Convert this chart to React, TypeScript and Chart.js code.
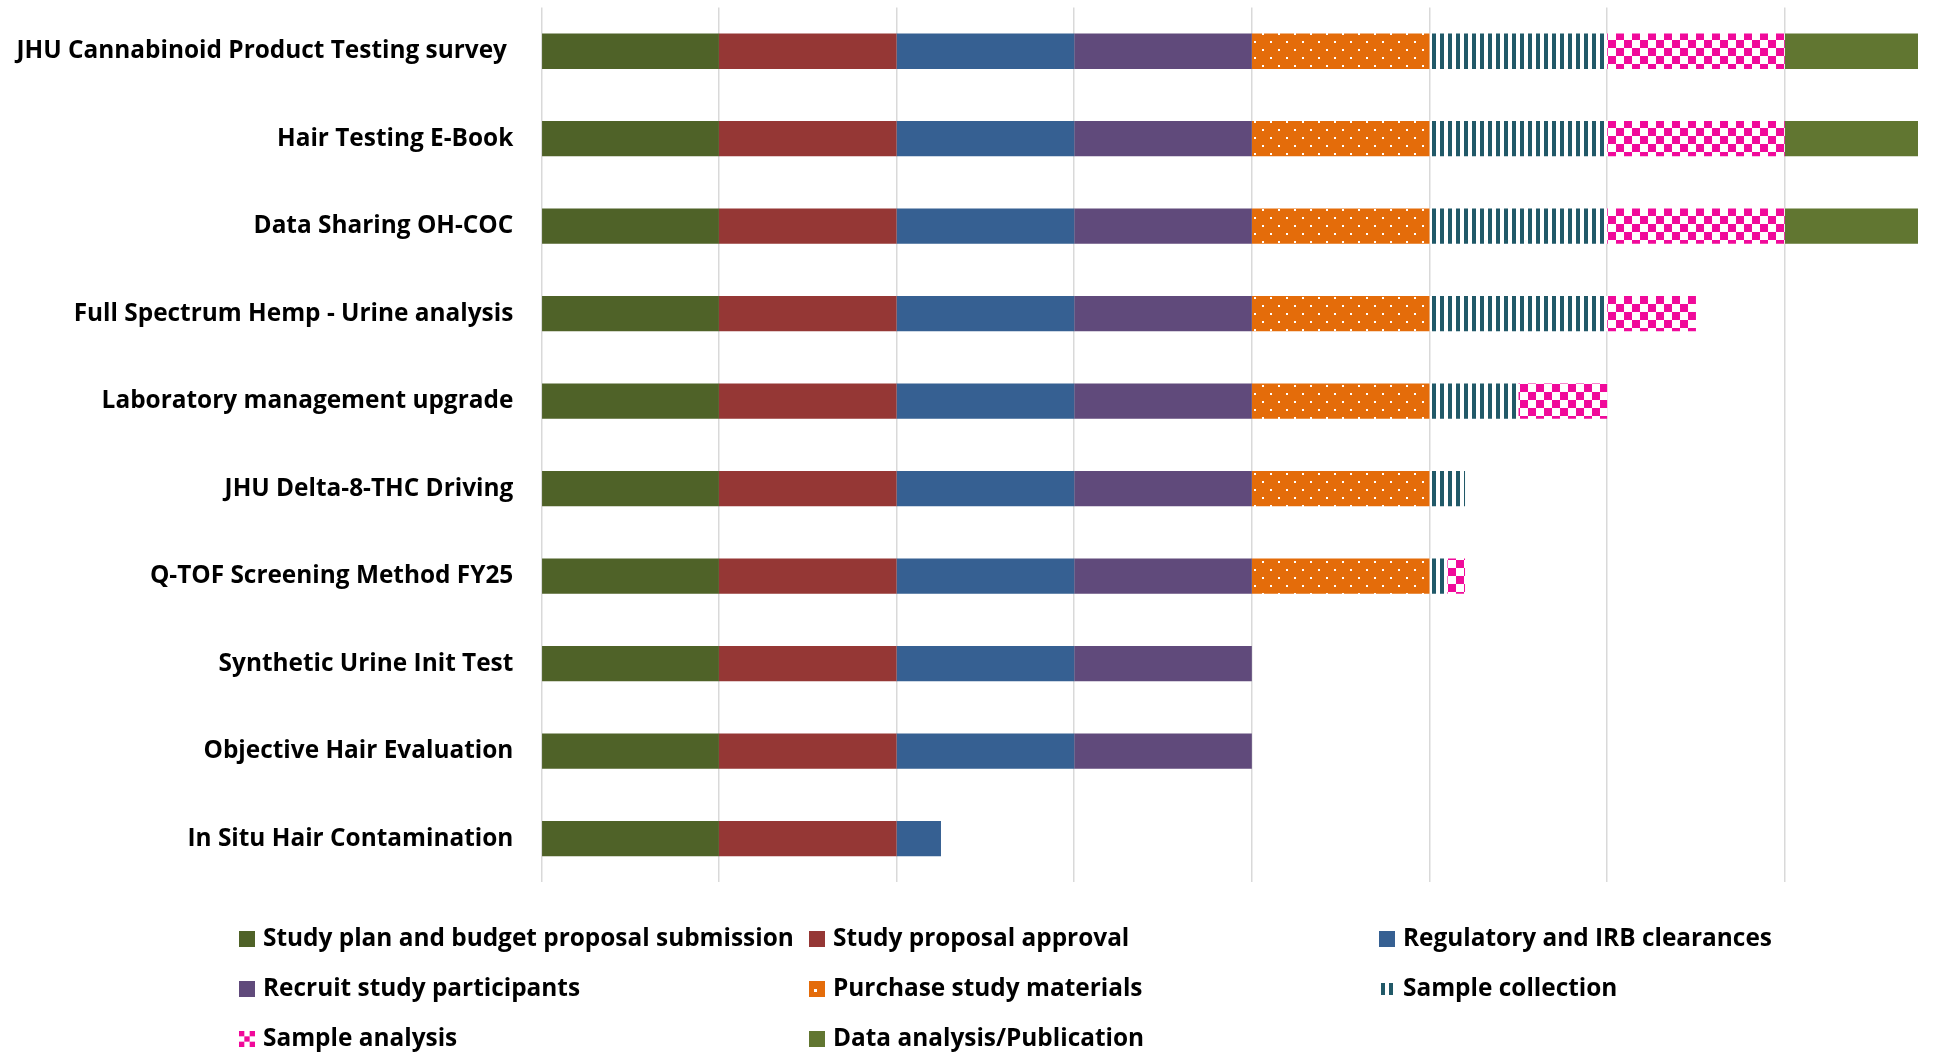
import { useEffect, useRef } from 'react';
import { Chart, registerables } from 'chart.js';

Chart.register(...registerables);

const categories = [
  'JHU Cannabinoid Product Testing survey ',
  'Hair Testing E-Book',
  'Data Sharing OH-COC',
  'Full Spectrum Hemp - Urine analysis',
  'Laboratory management upgrade',
  'JHU Delta-8-THC Driving',
  'Q-TOF Screening Method FY25',
  'Synthetic Urine Init Test',
  'Objective Hair Evaluation',
  'In Situ Hair Contamination',
];

const seriesNames = [
  'Study plan and budget proposal submission',
  'Study proposal approval',
  'Regulatory and IRB clearances',
  'Recruit study participants',
  'Purchase study materials',
  'Sample collection',
  'Sample analysis',
  'Data analysis/Publication',
];

const studyPlan = [1, 1, 1, 1, 1, 1, 1, 1, 1, 1];
const proposalApproval = [1, 1, 1, 1, 1, 1, 1, 1, 1, 1];
const regulatory = [1, 1, 1, 1, 1, 1, 1, 1, 1, 0.25];
const recruit = [1, 1, 1, 1, 1, 1, 1, 1, 1, 0];
const purchase = [1, 1, 1, 1, 1, 1, 1, 0, 0, 0];
const collection = [1, 1, 1, 1, 0.5, 0.2, 0.1, 0, 0, 0];
const analysis = [1, 1, 1, 0.5, 0.5, 0, 0.1, 0, 0, 0];
const dataAnalysis = [0.75, 0.75, 0.75, 0, 0, 0, 0, 0, 0, 0];

const gridTicks = [0, 1, 2, 3, 4, 5, 6, 7];

const FONT = '"Open Sans"';
const FONT_SIZE = 24.4;

export default function App() {
  const ref = useRef<HTMLCanvasElement | null>(null);

  useEffect(() => {
    document.body.style.margin = '0';
    const canvas = ref.current!;
    const ctx = canvas.getContext('2d')!;

    const tile = (w: number, h: number, draw: (g: CanvasRenderingContext2D) => void) => {
      const c = document.createElement('canvas');
      c.width = w;
      c.height = h;
      const g = c.getContext('2d')!;
      draw(g);
      return ctx.createPattern(c, 'repeat')!;
    };

    const dots = tile(16, 16, (g) => {
      g.fillStyle = '#E46C0A';
      g.fillRect(0, 0, 16, 16);
      g.fillStyle = '#FFFFFF';
      g.fillRect(14, 1, 2, 2);
      g.fillRect(6, 9, 2, 2);
    });
    const stripes = tile(8, 8, (g) => {
      g.fillStyle = '#FFFFFF';
      g.fillRect(0, 0, 8, 8);
      g.fillStyle = '#215968';
      g.fillRect(0, 0, 4, 8);
    });
    const checker = tile(16, 16, (g) => {
      g.fillStyle = '#FFFFFF';
      g.fillRect(0, 0, 16, 16);
      g.fillStyle = '#F00A9A';
      g.fillRect(0, 0, 8, 8);
      g.fillRect(8, 8, 8, 8);
    });

    const values = [studyPlan, proposalApproval, regulatory, recruit, purchase, collection, analysis, dataAnalysis];
    const fills: (string | CanvasPattern)[] = [
      '#4F6228', '#953735', '#366092', '#604A7B', dots, stripes, checker, '#617631',
    ];

    const legendPlugin = {
      id: 'gridLegend',
      afterDraw(chart: Chart) {
        const c = chart.ctx;
        const colX = [239, 809, 1379];
        const rowY = [939, 989, 1039];
        c.save();
        c.font = `bold ${FONT_SIZE}px ${FONT}`;
        c.textBaseline = 'middle';
        c.textAlign = 'left';
        seriesNames.forEach((name, i) => {
          const x = colX[i % 3];
          const y = rowY[Math.floor(i / 3)];
          const s = 16;
          const top = y - s / 2;
          if (i === 4) {
            c.fillStyle = '#E46C0A';
            c.fillRect(x, top, s, s);
            c.fillStyle = '#FFFFFF';
            c.fillRect(x + 5, top + 8, 3, 3);
          } else if (i === 5) {
            c.fillStyle = '#215968';
            c.fillRect(x + 2, top + 2, 4, 12);
            c.fillRect(x + 10, top + 2, 4, 12);
          } else if (i === 6) {
            c.fillStyle = '#F00A9A';
            const q = s / 3;
            for (let r = 0; r < 3; r++) {
              for (let k = 0; k < 3; k++) {
                if ((r + k) % 2 === 0) c.fillRect(x + k * q, top + r * q, q, q);
              }
            }
          } else {
            c.fillStyle = fills[i] as string;
            c.fillRect(x, top, s, s);
          }
          c.fillStyle = '#000000';
          c.fillText(name, x + 24, y);
        });
        c.restore();
      },
    };

    const chart = new Chart(canvas, {
      type: 'bar',
      data: {
        labels: categories,
        datasets: seriesNames.map((name, i) => ({
          label: name,
          data: values[i],
          backgroundColor: fills[i] as any,
          borderWidth: 0,
          categoryPercentage: 0.8,
          barPercentage: 0.504,
        })),
      },
      options: {
        indexAxis: 'y',
        animation: false,
        responsive: true,
        maintainAspectRatio: false,
        layout: { padding: { left: 0, right: 21, top: 7.5, bottom: 171.6 } },
        plugins: {
          legend: { display: false },
          tooltip: { enabled: false },
        },
        scales: {
          x: {
            stacked: true,
            min: 0,
            max: 7.75,
            afterBuildTicks: (s: any) => {
              s.ticks = gridTicks.map((v) => ({ value: v }));
            },
            afterFit: (s: any) => {
              s.height = 0;
            },
            ticks: { display: false },
            grid: { color: '#D9D9D9', lineWidth: 1.5, drawTicks: false },
            border: { display: false },
          },
          y: {
            stacked: true,
            afterFit: (s: any) => {
              s.width = 541.3;
            },
            ticks: {
              color: '#000000',
              padding: 0,
              font: { family: FONT, weight: 'bold', size: FONT_SIZE, lineHeight: 0.6 },
            },
            grid: {
              display: true,
              drawOnChartArea: false,
              drawTicks: true,
              tickLength: 28,
              color: 'rgba(0,0,0,0)',
            },
            border: { display: false },
          },
        },
      },
      plugins: [legendPlugin],
    });

    return () => chart.destroy();
  }, []);

  return (
    <div style={{ position: 'fixed', left: 0, top: 0, width: '1939px', height: '1054px', background: '#fff' }}>
      <canvas ref={ref} />
    </div>
  );
}
